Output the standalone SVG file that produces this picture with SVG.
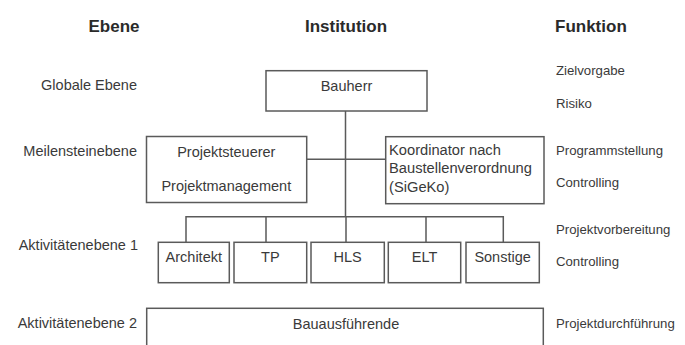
<svg xmlns="http://www.w3.org/2000/svg" width="685" height="345" viewBox="0 0 685 345">
<style>
text{font-family:"Liberation Sans",Arial,sans-serif;fill:#3a3a3a}
.h{font-size:17px;font-weight:bold;fill:#2a2a2a}
.l{font-size:14.5px;text-anchor:end}
.r{font-size:13.2px}
.b{font-size:14.5px;text-anchor:middle}
.k{font-size:14.7px}
.box{fill:#fff;stroke:#5a5a5a;stroke-width:1.5}
.c{fill:none;stroke:#5a5a5a;stroke-width:1.5}
</style>
<rect width="685" height="345" fill="#fff"/>
<g id="headers">
<text class="h" x="114" y="32" text-anchor="middle">Ebene</text>
<text class="h" x="346" y="32" text-anchor="middle">Institution</text>
<text class="h" x="555" y="32">Funktion</text>
</g>
<g id="ebene">
<text class="l" x="137" y="90">Globale Ebene</text>
<text class="l" x="137" y="156">Meilensteinebene</text>
<text class="l" x="138" y="250">Aktivitätenebene 1</text>
<text class="l" x="137" y="328">Aktivitätenebene 2</text>
</g>
<g id="funktion">
<text class="r" x="556" y="75">Zielvorgabe</text>
<text class="r" x="556" y="108">Risiko</text>
<text class="r" x="556" y="155">Programmstellung</text>
<text class="r" x="556" y="187">Controlling</text>
<text class="r" x="556" y="234">Projektvorbereitung</text>
<text class="r" x="556" y="266">Controlling</text>
<text class="r" x="556" y="328">Projektdurchführung</text>
</g>
<g id="connectors">
<path class="c" d="M345.5 111V216.7M306.7 159.3H385.7M186 242.3V216.7H503.3V242.3M266 216.7V242.3M346 216.7V242.3M426 216.7V242.3"/>
</g>
<g id="bauherr">
<rect class="box" x="266" y="70.7" width="161" height="40.3"/>
<text class="b" x="346.5" y="91">Bauherr</text>
</g>
<g id="projektsteuerer">
<rect class="box" x="146.5" y="136.5" width="160.2" height="66"/>
<text class="b" x="226.3" y="156.5">Projektsteuerer</text>
<text class="b" x="226.3" y="191">Projektmanagement</text>
</g>
<g id="koordinator">
<rect class="box" x="385.7" y="136.7" width="158.3" height="67"/>
<text class="k" x="389" y="155">Koordinator nach</text>
<text class="k" x="389" y="173">Baustellenverordnung</text>
<text class="k" x="389" y="191.5">(SiGeKo)</text>
</g>
<g id="architekt">
<rect class="box" x="158.3" y="242.3" width="71" height="40.4"/>
<text class="b" x="193.8" y="262.3">Architekt</text>
</g>
<g id="tp">
<rect class="box" x="234" y="242.3" width="72.7" height="40.4"/>
<text class="b" x="270.3" y="262.3">TP</text>
</g>
<g id="hls">
<rect class="box" x="311" y="242.3" width="73.3" height="40.4"/>
<text class="b" x="347.6" y="262.3">HLS</text>
</g>
<g id="elt">
<rect class="box" x="388.3" y="242.3" width="72.4" height="40.4"/>
<text class="b" x="424.5" y="262.3">ELT</text>
</g>
<g id="sonstige">
<rect class="box" x="466" y="242.3" width="73.3" height="40.4"/>
<text class="b" x="502.6" y="262.3">Sonstige</text>
</g>
<g id="bauausfuehrende">
<rect class="box" x="146.7" y="308.3" width="396.6" height="45"/>
<text class="b" x="346" y="329">Bauausführende</text>
</g>
</svg>
